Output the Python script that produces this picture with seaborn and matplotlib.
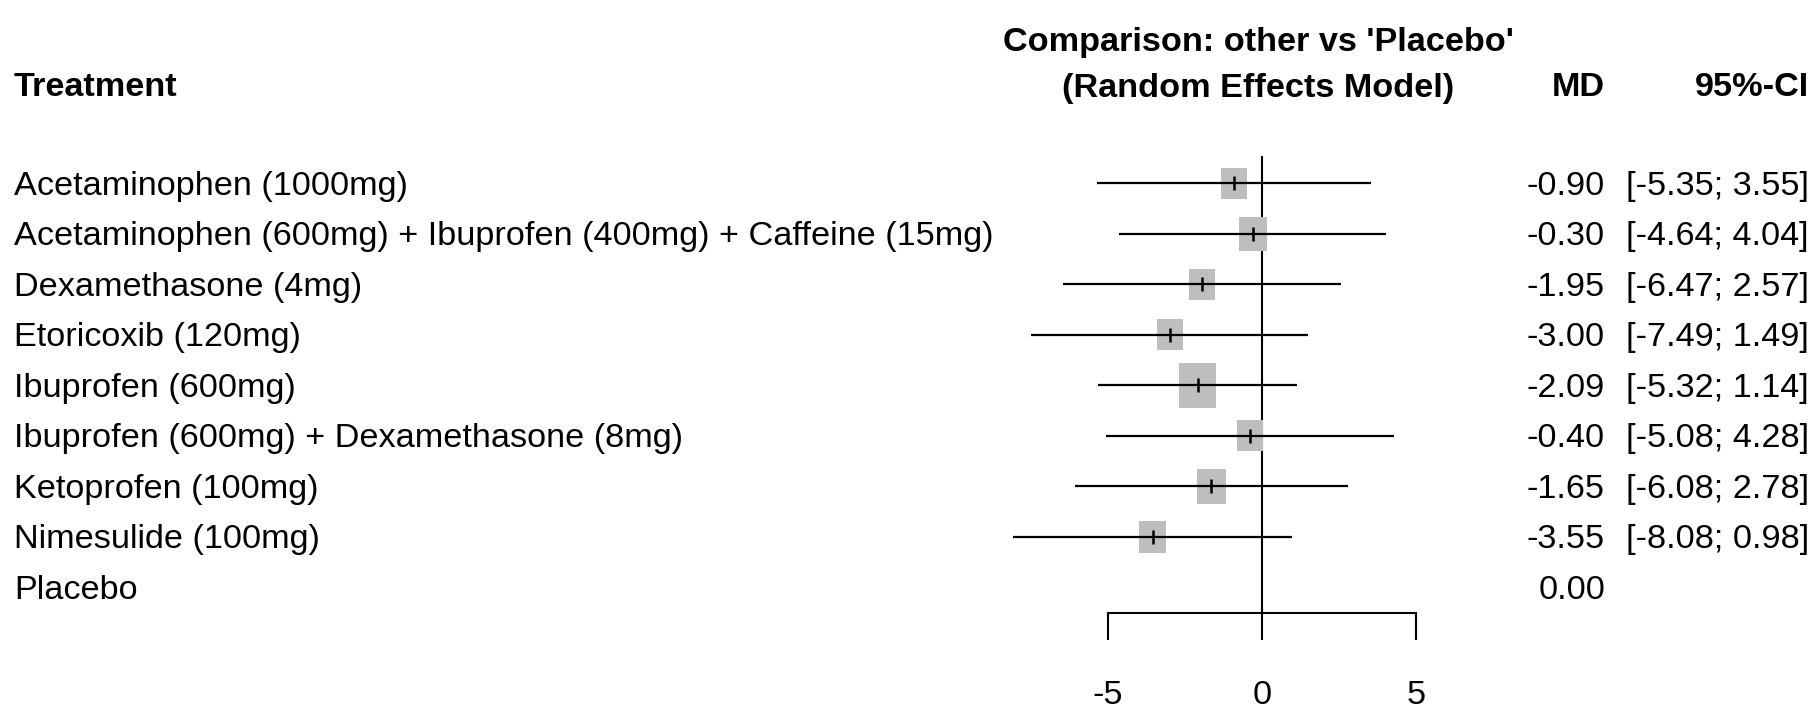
import numpy as np
import pandas as pd
import seaborn as sns
import matplotlib.pyplot as plt
import matplotlib.transforms as mtransforms

# forest plot data (network meta-analysis, MD vs placebo)
treatments = [
    'Acetaminophen (1000mg)',
    'Acetaminophen (600mg) + Ibuprofen (400mg) + Caffeine (15mg)',
    'Dexamethasone (4mg)',
    'Etoricoxib (120mg)',
    'Ibuprofen (600mg)',
    'Ibuprofen (600mg) + Dexamethasone (8mg)',
    'Ketoprofen (100mg)',
    'Nimesulide (100mg)',
    'Placebo',
]
md = [-0.90, -0.30, -1.95, -3.00, -2.09, -0.40, -1.65, -3.55, 0.00]
lower = [-5.35, -4.64, -6.47, -7.49, -5.32, -5.08, -6.08, -8.08, np.nan]
upper = [3.55, 4.04, 2.57, 1.49, 1.14, 4.28, 2.78, 0.98, np.nan]
# relative weights (square size)
weight = [26, 28, 26, 26, 37, 26, 29, 27, np.nan]
xticks = [-5, 0, 5]

df = pd.DataFrame({'treatment': treatments, 'md': md, 'lower': lower,
                   'upper': upper, 'weight': weight})
df['row'] = np.arange(len(df))
est = df.dropna()

sns.set_style('white')
plt.rcParams['font.family'] = ['Liberation Sans', 'DejaVu Sans']
plt.rcParams['text.color'] = 'black'
plt.rcParams['xtick.color'] = 'black'
plt.rcParams['xtick.labelcolor'] = 'black'
FS = 24.7

W, H = 1811, 708
fig = plt.figure(figsize=(W / 100, H / 100), dpi=100)

# forest axes: x=0 at px 1262, 1 unit = 30.8 px; rows every 50.5 px from 183.3
x0, unit = 1262, 30.8
left_px, right_px = 1060, 1460
row0, step = 183.3, 50.5
ax_bottom_px = row0 + step * 8.5
ax = fig.add_axes([left_px / W, 1 - ax_bottom_px / H,
                   (right_px - left_px) / W, ax_bottom_px / H])
ax.set_xlim((left_px - x0) / unit, (right_px - x0) / unit)
ax.set_ylim(8.5, -row0 / step)

# reference line at 0
ax.vlines(0, -0.54, 8.5, color='black', lw=1.5, zorder=1, clip_on=False)

# weighted squares (the picture is stretched a bit vertically)
stretch = 1.2
rect = [(-0.5 / stretch, -0.5), (0.5 / stretch, -0.5), (0.5 / stretch, 0.5),
        (-0.5 / stretch, 0.5), (-0.5 / stretch, -0.5)]
sns.scatterplot(data=est, x='md', y='row', marker=rect, color='#bebebe',
                s=(est['weight'] * stretch * 0.72) ** 2, linewidth=0, zorder=2,
                ax=ax, clip_on=False, legend=False)

# confidence intervals and point ticks
ax.hlines(est['row'], est['lower'], est['upper'], color='black', lw=1.6,
          zorder=3, clip_on=False)
ax.scatter(est['md'], est['row'], marker='|', s=(14 * 0.72) ** 2,
           color='black', linewidths=1.8, zorder=4, clip_on=False)

for side in ['left', 'top', 'right']:
    ax.spines[side].set_visible(False)
ax.spines['bottom'].set_bounds(xticks[0], xticks[-1])
ax.spines['bottom'].set_linewidth(1.5)
ax.spines['bottom'].set_color('black')
ax.set_xticks(xticks)
ax.set_xticklabels([str(t) for t in xticks], fontsize=FS)
ax.tick_params(axis='x', direction='out', length=19.4, width=1.5, pad=29,
               bottom=True, colors='black')
ax.set_yticks([])
ax.set_xlabel('')
ax.set_ylabel('')
ax.patch.set_alpha(0)

# text columns
tr = mtransforms.blended_transform_factory(fig.transFigure, ax.transData)
tr = mtransforms.offset_copy(tr, fig=fig, y=-3, units='dots')
for _, r in df.iterrows():
    fig.text(14 / W, r['row'], r['treatment'], transform=tr, fontsize=FS,
             ha='left', va='center')
    fig.text(1605 / W, r['row'], f"{r['md']:.2f}", transform=tr, fontsize=FS,
             ha='right', va='center')
    if not np.isnan(r['lower']):
        fig.text(1809 / W, r['row'], f"[{r['lower']:.2f}; {r['upper']:.2f}]",
                 transform=tr, fontsize=FS, ha='right', va='center')

# headers
fig.text(14 / W, 1 - 88 / H, 'Treatment', fontsize=FS, fontweight='bold',
         ha='left', va='center')
fig.text(1258 / W, 1 - 42 / H, "Comparison: other vs 'Placebo'", fontsize=FS,
         fontweight='bold', ha='center', va='center')
fig.text(1258 / W, 1 - 88 / H, '(Random Effects Model)', fontsize=FS,
         fontweight='bold', ha='center', va='center')
fig.text(1605 / W, 1 - 88 / H, 'MD', fontsize=FS, fontweight='bold',
         ha='right', va='center')
fig.text(1809 / W, 1 - 88 / H, '95%-CI', fontsize=FS, fontweight='bold',
         ha='right', va='center')

fig.savefig('out.png', dpi=100)
